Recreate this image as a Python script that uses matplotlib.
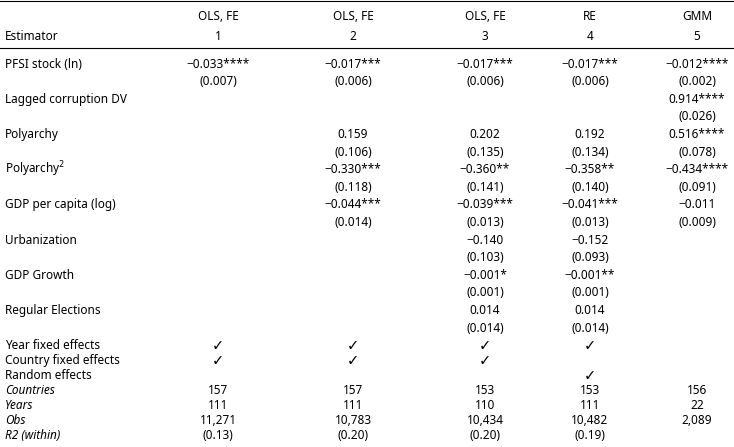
import matplotlib
matplotlib.use("Agg")
import matplotlib.pyplot as plt

plt.rcParams['font.family'] = ['Noto Sans', 'DejaVu Sans']

models = ["OLS, FE", "OLS, FE", "OLS, FE", "RE", "GMM"]
numbers = ["1", "2", "3", "4", "5"]
col_x = [218, 353, 485, 590, 697]

# each variable: (label, coefficients, standard errors)
variables = [
    ("PFSI stock (ln)", ["\u22120.033****", "\u22120.017***", "\u22120.017***", "\u22120.017***", "\u22120.012****"],
     ["(0.007)", "(0.006)", "(0.006)", "(0.006)", "(0.002)"]),
    ("Lagged corruption DV", ["", "", "", "", "0.914****"], ["", "", "", "", "(0.026)"]),
    ("Polyarchy", ["", "0.159", "0.202", "0.192", "0.516****"],
     ["", "(0.106)", "(0.135)", "(0.134)", "(0.078)"]),
    ("Polyarchy$^2$", ["", "\u22120.330***", "\u22120.360**", "\u22120.358**", "\u22120.434****"],
     ["", "(0.118)", "(0.141)", "(0.140)", "(0.091)"]),
    ("GDP per capita (log)", ["", "\u22120.044***", "\u22120.039***", "\u22120.041***", "\u22120.011"],
     ["", "(0.014)", "(0.013)", "(0.013)", "(0.009)"]),
    ("Urbanization", ["", "", "\u22120.140", "\u22120.152", ""], ["", "", "(0.103)", "(0.093)", ""]),
    ("GDP Growth", ["", "", "\u22120.001*", "\u22120.001**", ""], ["", "", "(0.001)", "(0.001)", ""]),
    ("Regular Elections", ["", "", "0.014", "0.014", ""], ["", "", "(0.014)", "(0.014)", ""]),
]
effects = [
    ("Year fixed effects", [1, 1, 1, 1, 0]),
    ("Country fixed effects", [1, 1, 1, 0, 0]),
    ("Random effects", [0, 0, 0, 1, 0]),
]
stats = [
    ("Countries", ["157", "157", "153", "153", "156"]),
    ("Years", ["111", "111", "110", "111", "22"]),
    ("Obs", ["11,271", "10,783", "10,434", "10,482", "2,089"]),
    ("R2 (within)", ["(0.13)", "(0.20)", "(0.20)", "(0.19)", ""]),
]

W, H = 734, 447
fig = plt.figure(figsize=(W / 100, H / 100), dpi=100)
ax = fig.add_axes([0, 0, 1, 1])
ax.set_xlim(0, W)
ax.set_ylim(H, 0)
ax.axis("off")

fs = 8.5
ax.plot([0, W], [1, 1], color="black", lw=0.8)
ax.plot([0, W], [48, 48], color="black", lw=0.8)

for x, m, n in zip(col_x, models, numbers):
    ax.text(x, 17, m, ha="center", va="center", fontsize=fs)
    ax.text(x, 36, n, ha="center", va="center", fontsize=fs)
ax.text(5, 36, "Estimator", ha="left", va="center", fontsize=fs)

y = 64
step = 17.6
for label, coefs, ses in variables:
    ax.text(5, y, label, ha="left", va="center", fontsize=fs)
    for x, c, s in zip(col_x, coefs, ses):
        ax.text(x, y, c, ha="center", va="center", fontsize=fs)
        ax.text(x, y + step, s, ha="center", va="center", fontsize=fs)
    y += 2 * step

step2 = 15.0
for label, flags in effects:
    ax.text(5, y, label, ha="left", va="center", fontsize=fs)
    for x, f in zip(col_x, flags):
        if f:
            ax.text(x, y, "\u2713", ha="center", va="center", fontsize=fs + 2,
                    family="DejaVu Sans", fontweight="bold")
    y += step2

for label, vals in stats:
    ax.text(5, y, label, ha="left", va="center", fontsize=fs, style="italic")
    for x, v in zip(col_x, vals):
        ax.text(x, y, v, ha="center", va="center", fontsize=fs)
    y += step2

fig.savefig("out.png", dpi=100)
